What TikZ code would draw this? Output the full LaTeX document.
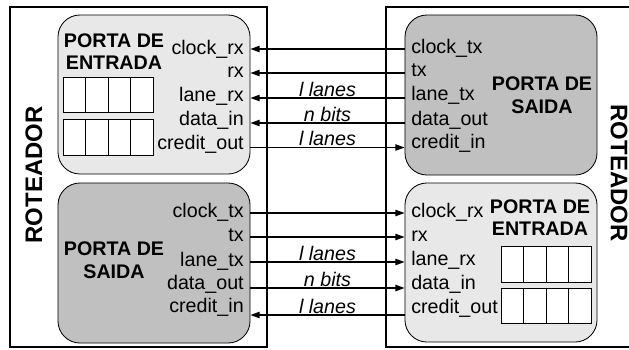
\documentclass[tikz,border=0pt]{standalone}
\usepackage{fontspec}
\setmainfont{Liberation Sans}
\usetikzlibrary{arrows.meta}
\definecolor{portlight}{HTML}{E8E8E8}
\definecolor{portdark}{HTML}{C0C0C0}
\tikzset{
  ->/.style={line width=0.9pt,-{Triangle[length=6.5pt,width=4.5pt]}},
  <-/.style={line width=0.9pt,{Triangle[length=6.5pt,width=4.5pt]}-},
  port/.style={draw,line width=0.6pt,rounded corners=0.55cm,minimum width=4.8cm,minimum height=4cm,inner sep=0pt},
  title/.style={font=\fontsize{14}{16}\selectfont\bfseries,align=center,inner sep=0pt},
  sigl/.style={font=\fontsize{14}{16}\selectfont,inner sep=0pt},
  bus/.style={font=\fontsize{14}{16}\selectfont\itshape,above,inner sep=0.6pt},
  cell/.style={draw,fill=white,line width=0.7pt},
  rot/.style={font=\fontsize{17}{20}\selectfont\bfseries,inner sep=0pt}
}

\begin{document}
\begin{tikzpicture}[x=0.025cm,y=-0.025cm]
    \useasboundingbox (0,0) rectangle (629,349);
    \clip (0,0) rectangle (629,349);
    % roteadores
    \draw[line width=0.9pt] (10,7) rectangle (267,347);
    \draw[line width=0.9pt] (386,7) rectangle (640,347);
    \node[rot,rotate=90] (rotL) at (34,175) {ROTEADOR};
    \node[rot,rotate=-90] (rotR) at (619,173) {ROTEADOR};
    % portas
    \node[port,fill=portlight,minimum height=3.975cm] (pA) at (154,94.5) {};
    \node[port,fill=portdark] (pB) at (154,263) {};
    \node[port,fill=portdark] (pC) at (501,95) {};
    \node[port,fill=portlight,minimum height=3.975cm] (pD) at (501,262.5) {};
    \node[title] (tA) at (114,51.5) {PORTA DE\\ENTRADA};
    \node[title] (tB) at (114,260) {PORTA DE\\SAIDA};
    \node[title] (tC) at (542,95) {PORTA DE\\SAIDA};
    \node[title] (tD) at (540,217.5) {PORTA DE\\ENTRADA};
    % buffers
    \draw[cell] (63,77) rectangle (153,112) (85.5,77) -- (85.5,112) (108,77) -- (108,112) (130.5,77) -- (130.5,112);
    \draw[cell] (63,119) rectangle (153,155) (85.5,119) -- (85.5,155) (108,119) -- (108,155) (130.5,119) -- (130.5,155);
    \draw[cell] (501,246) rectangle (591,282) (523.5,246) -- (523.5,282) (546,246) -- (546,282) (568.5,246) -- (568.5,282);
    \draw[cell] (501,288) rectangle (591,323) (523.5,288) -- (523.5,323) (546,288) -- (546,323) (568.5,288) -- (568.5,323);
    % sinais da porta de entrada (esq.)
    \node[sigl,anchor=base east] (a1) at (244,54) {clock\_rx};
    \node[sigl,anchor=base east] (a2) at (244,77) {rx};
    \node[sigl,anchor=base east] (a3) at (244,101) {lane\_rx};
    \node[sigl,anchor=base east] (a4) at (244,125) {data\_in};
    \node[sigl,anchor=base east] (a5) at (244,149) {credit\_out};
    % sinais da porta de saida (dir.)
    \node[sigl,anchor=base west] (c1) at (411,53) {clock\_tx};
    \node[sigl,anchor=base west] (c2) at (411,76) {tx};
    \node[sigl,anchor=base west] (c3) at (411,100) {lane\_tx};
    \node[sigl,anchor=base west] (c4) at (411,125) {data\_out};
    \node[sigl,anchor=base west] (c5) at (411,148) {credit\_in};
    % sinais da porta de saida (esq.)
    \node[sigl,anchor=base east] (b1) at (244,217) {clock\_tx};
    \node[sigl,anchor=base east] (b2) at (244,241) {tx};
    \node[sigl,anchor=base east] (b3) at (244,266) {lane\_tx};
    \node[sigl,anchor=base east] (b4) at (244,289) {data\_out};
    \node[sigl,anchor=base east] (b5) at (244,312) {credit\_in};
    % sinais da porta de entrada (dir.)
    \node[sigl,anchor=base west] (d1) at (411,217) {clock\_rx};
    \node[sigl,anchor=base west] (d2) at (411,241) {rx};
    \node[sigl,anchor=base west] (d3) at (411,265) {lane\_rx};
    \node[sigl,anchor=base west] (d4) at (411,289) {data\_in};
    \node[sigl,anchor=base west] (d5) at (411,313) {credit\_out};
    % ligacoes de cima
    \draw[<-] (pA.east |- 0,49) -- (pC.west |- 0,49);
    \draw[<-] (pA.east |- 0,73) -- (pC.west |- 0,73);
    \draw[<-] (pA.east |- 0,98) -- node[bus] {l lanes} (pC.west |- 0,98);
    \draw[<-] (pA.east |- 0,123) -- node[bus] {n bits} (pC.west |- 0,123);
    \draw[->] (pA.east |- 0,147.5) -- node[bus] {l lanes} (pC.west |- 0,147.5);
    % ligacoes de baixo
    \draw[->] (pB.east |- 0,213) -- (pD.west |- 0,213);
    \draw[->] (pB.east |- 0,237) -- (pD.west |- 0,237);
    \draw[->] (pB.east |- 0,262) -- node[bus] {l lanes} (pD.west |- 0,262);
    \draw[->] (pB.east |- 0,288) -- node[bus] {n bits} (pD.west |- 0,288);
    \draw[<-] (pB.east |- 0,315) -- node[bus] {l lanes} (pD.west |- 0,315);
\end{tikzpicture}
\end{document}
